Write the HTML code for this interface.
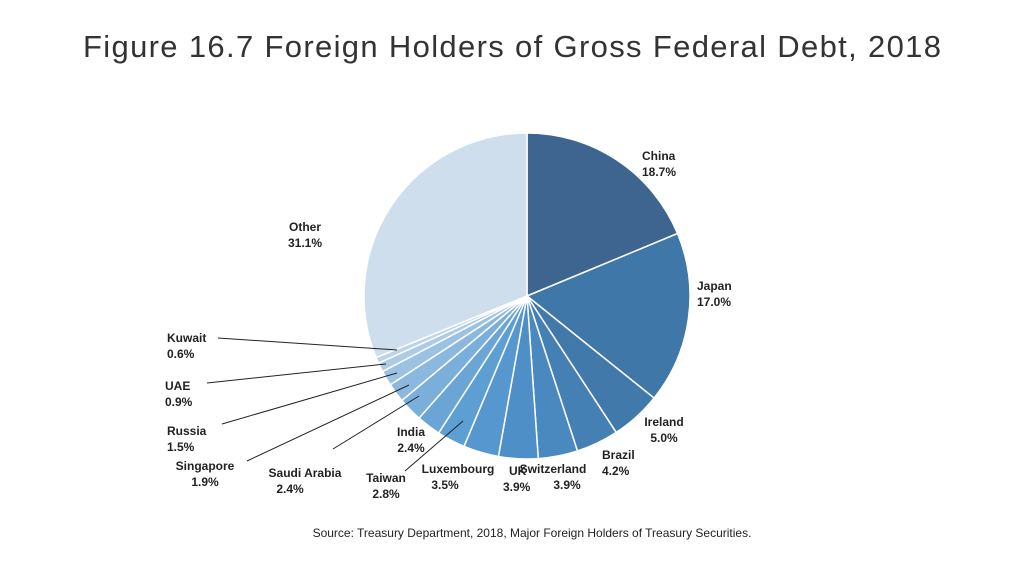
<!DOCTYPE html>
<html><head><meta charset="utf-8"><style>
body{margin:0;width:1024px;height:576px;background:#fff;overflow:hidden;font-family:"Liberation Sans",sans-serif}
</style></head><body>
<svg width="1024" height="576">
<text x="512" y="57" text-anchor="middle" font-size="31" fill="#333" font-family="Liberation Sans, sans-serif" style="font-weight:300" textLength="858">Figure 16.7 Foreign Holders of Gross Federal Debt, 2018</text>
<g id="pie"></g>
<g id="lab" font-size="12" font-weight="bold" fill="#222"></g>
<text x="532" y="537" text-anchor="middle" font-size="12" fill="#222">Source: Treasury Department, 2018, Major Foreign Holders of Treasury Securities.</text>
</svg>
<script>
const categories=["China","Japan","Ireland","Brazil","Switzerland","UK","Luxembourg","Taiwan","India","Saudi Arabia","Singapore","Russia","UAE","Kuwait","Other"];
const values=[18.7,17.0,5.0,4.2,3.9,3.9,3.5,2.8,2.4,2.4,1.9,1.5,0.9,0.6,31.1];
const colors=["#3d6590","#3e77a8","#4279ab","#4580b5","#4a88c0","#4e8fc8","#5597ce","#5d9ed3","#6aa5d6","#7aafdc","#8bb8df","#9bc2e3","#abcbe6","#bad4ea","#cfdeed"];
const labelPos=[[642,160,"start"],[697,290,"start"],[305,231,"middle"],[167,342,"start"],[165,390,"start"],[167,435,"start"],[205,470,"middle"],[305,477,"middle"],[386,482,"middle"],[458,473,"middle"],[509,475,"start"],[553,473,"middle"],[602,459,"start"],[664,426,"middle"],[411,436,"middle"]];
const labelOrder=[0,1,14,13,12,11,10,9,7,6,5,4,3,2,8];
const leaders={13:[[218,338],[397,350]],12:[[207,383],[386,364]],11:[[222,424],[397,373]],10:[[247,461],[409,385]],9:[[333,449],[419,396]],7:[[405,471],[463,421]]};
const ns="http://www.w3.org/2000/svg",cx=527,cy=296,r=163;
const total=values.reduce((a,b)=>a+b,0);
const pie=document.getElementById('pie'),lab=document.getElementById('lab');
let a=0;
values.forEach((v,i)=>{
 const a0=a/total*2*Math.PI,a1=(a+v)/total*2*Math.PI;a+=v;
 const p=(t)=>[cx+r*Math.sin(t),cy-r*Math.cos(t)];
 const [x0,y0]=p(a0),[x1,y1]=p(a1);
 const el=document.createElementNS(ns,'path');
 el.setAttribute('d',`M${cx},${cy}L${x0},${y0}A${r},${r} 0 ${a1-a0>Math.PI?1:0} 1 ${x1},${y1}Z`);
 el.setAttribute('fill',colors[i]);el.setAttribute('stroke','#fff');el.setAttribute('stroke-width','1.5');
 
 
 pie.appendChild(el);
});
labelOrder.forEach((ci,k)=>{
 const [x,y,anc]=labelPos[k];
 const t=document.createElementNS(ns,'text');
 t.setAttribute('text-anchor',anc);
 
 
 const s1=document.createElementNS(ns,'tspan');s1.setAttribute('x',x);s1.setAttribute('y',y);s1.textContent=categories[ci];
 const s2=document.createElementNS(ns,'tspan');s2.setAttribute('x',ci==9?x-15:(ci==6?x-13:x));s2.setAttribute('y',y+16);s2.textContent=values[ci].toFixed(1)+'%';
 if(ci==5){s2.setAttribute('x',x-6);}
 if(ci==4){s2.setAttribute('x',x+14);}
 if(ci==3){s1.textContent='Brazil';const s3=document.createElementNS(ns,'tspan');}
 t.appendChild(s1);t.appendChild(s2);lab.appendChild(t);
});
Object.keys(leaders).forEach(k=>{
 const [[x1,y1],[x2,y2]]=leaders[k];
 const l=document.createElementNS(ns,'line');
 l.setAttribute('x1',x1);l.setAttribute('y1',y1);l.setAttribute('x2',x2);l.setAttribute('y2',y2);
 l.setAttribute('stroke','#222');l.setAttribute('stroke-width','1');
 
 
 lab.appendChild(l);
});
</script>
</body></html>
